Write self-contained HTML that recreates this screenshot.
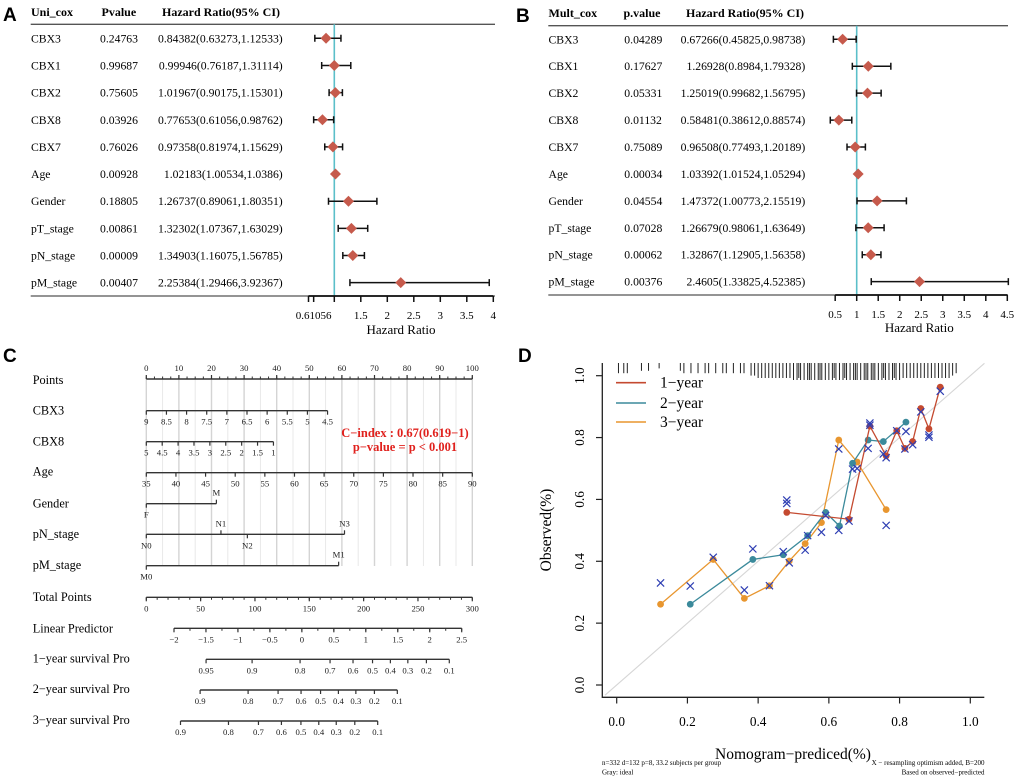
<!DOCTYPE html>
<html><head><meta charset="utf-8">
<style>
html,body{margin:0;padding:0;background:#fff;}
svg{display:block;font-family:"Liberation Serif",serif;}
.pl{font-family:"Liberation Sans",sans-serif;font-weight:bold;font-size:19px;}
</style></head>
<body>
<svg id="fig" width="1020" height="782" viewBox="0 0 1020 782">
<text class="pl" x="3" y="21">A</text>
<text class="pl" x="516" y="22">B</text>
<text class="pl" x="3" y="362">C</text>
<text class="pl" x="518" y="362">D</text>
</svg>
<script>
// ---------- Panel A data (univariate Cox) ----------
const aNames=["CBX3","CBX1","CBX2","CBX8","CBX7","Age","Gender","pT_stage","pN_stage","pM_stage"];
const aP=["0.24763","0.99687","0.75605","0.03926","0.76026","0.00928","0.18805","0.00861","0.00009","0.00407"];
const aHR=[0.84382,0.99946,1.01967,0.77653,0.97358,1.02183,1.26737,1.32302,1.34903,2.25384];
const aLo=[0.63273,0.76187,0.90175,0.61056,0.81974,1.00534,0.89061,1.07367,1.16075,1.29466];
const aHi=[1.12533,1.31114,1.15301,0.98762,1.15629,1.0386,1.80351,1.63029,1.56785,3.92367];
const aTicks=[0.61056,1,1.5,2,2.5,3,3.5,4];
const aTickLabels=["0.61056","","1.5","2","2.5","3","3.5","4"];
// ---------- Panel B data (multivariate Cox) ----------
const bNames=["CBX3","CBX1","CBX2","CBX8","CBX7","Age","Gender","pT_stage","pN_stage","pM_stage"];
const bP=["0.04289","0.17627","0.05331","0.01132","0.75089","0.00034","0.04554","0.07028","0.00062","0.00376"];
const bHR=[0.67266,1.26928,1.25019,0.58481,0.96508,1.03392,1.47372,1.26679,1.32867,2.4605];
const bLo=[0.45825,0.8984,0.99682,0.38612,0.77493,1.01524,1.00773,0.98061,1.12905,1.33825];
const bHi=[0.98738,1.79328,1.56795,0.88574,1.20189,1.05294,2.15519,1.63649,1.56358,4.52385];
const bTicks=[0.5,1,1.5,2,2.5,3,3.5,4,4.5];
const bTickLabels=["0.5","1","1.5","2","2.5","3","3.5","4","4.5"];
// ---------- Panel D data (calibration) ----------
const y1Pred=[0.481,0.657,0.716,0.762,0.792,0.815,0.837,0.860,0.883,0.915];
const y1Obs=[0.558,0.536,0.837,0.741,0.822,0.765,0.787,0.894,0.828,0.963];
const y2Pred=[0.208,0.385,0.471,0.540,0.591,0.630,0.667,0.711,0.754,0.818];
const y2Obs=[0.261,0.406,0.421,0.483,0.558,0.514,0.717,0.792,0.787,0.850];
const y3Pred=[0.124,0.273,0.361,0.432,0.488,0.533,0.579,0.628,0.680,0.762];
const y3Obs=[0.261,0.406,0.280,0.321,0.401,0.457,0.525,0.792,0.721,0.567];
const xPred=[0.124,0.208,0.273,0.361,0.385,0.432,0.471,0.481,0.481,0.488,0.533,0.540,0.579,0.591,0.628,0.628,0.657,0.667,0.680,0.711,0.716,0.716,0.754,0.762,0.792,0.818,0.815,0.837,0.860,0.883,0.883,0.762,0.915];
const xObs=[0.330,0.320,0.413,0.307,0.440,0.321,0.431,0.598,0.587,0.395,0.436,0.483,0.494,0.548,0.763,0.500,0.530,0.698,0.700,0.765,0.847,0.840,0.747,0.735,0.822,0.820,0.763,0.777,0.883,0.808,0.801,0.516,0.950];
const rugVals=[0.005,0.02,0.03,0.07,0.09,0.12,0.18,0.19,0.21,0.23,0.25,0.26,0.28,0.30,0.31,0.33,0.35,0.36,0.38,0.39,0.40,0.41,0.42,0.43,0.44,0.45,0.46,0.47,0.48,0.49,0.50,0.51,0.515,0.52,0.53,0.54,0.545,0.55,0.56,0.57,0.575,0.58,0.59,0.60,0.61,0.615,0.62,0.63,0.64,0.645,0.65,0.66,0.67,0.675,0.68,0.69,0.70,0.705,0.71,0.72,0.725,0.73,0.74,0.75,0.755,0.76,0.77,0.78,0.785,0.79,0.80,0.81,0.82,0.83,0.84,0.85,0.86,0.87,0.88,0.89,0.90,0.91,0.92,0.93,0.94,0.95,0.96];
const dTicks=[0,0.2,0.4,0.6,0.8,1.0];
const dTickLabels=["0.0","0.2","0.4","0.6","0.8","1.0"];
// ---------- Panel C data (nomogram) ----------
const cbx3Ticks=[9,8.5,8,7.5,7,6.5,6,5.5,5,4.5];
const cbx8Ticks=[5,4.5,4,3.5,3,2.5,2,1.5,1];
const ageTicks=[35,40,45,50,55,60,65,70,75,80,85,90];
const lpTicks=[-2,-1.5,-1,-0.5,0,0.5,1,1.5,2,2.5];
const surv1Ticks=[0.95,0.9,0.8,0.7,0.6,0.5,0.4,0.3,0.2,0.1];
const surv2Ticks=[0.9,0.8,0.7,0.6,0.5,0.4,0.3,0.2,0.1];
const surv3Ticks=[0.9,0.8,0.7,0.6,0.5,0.4,0.3,0.2,0.1];
const logS0=[-0.2295,-0.5174,-0.7033];
const cbx3MaxPts=55.6, cbx8MaxPts=39, genderMPts=21.5, pnPts=[0,22.9,31,60.8], pmM1Pts=59;

const NS='http://www.w3.org/2000/svg';
const svg=document.getElementById('fig');
function mk(tag,a,parent){const e=document.createElementNS(NS,tag);for(const k in a)e.setAttribute(k,a[k]);(parent||svg).appendChild(e);return e;}
function tx(s,a,parent){const e=mk('text',a,parent);e.textContent=s;return e;}

// ================= Forest plots =================
function forest(cfg){
  const g=mk('g',{});
  
  
  const sx=v=>cfg.x1+(v-1)*cfg.unit;
  let t;
  t=tx(cfg.h1,{x:cfg.nameX,y:cfg.headY,'font-size':12,'font-weight':'bold'},g);
  
  
  t=tx(cfg.h2,{x:cfg.pHX,y:cfg.headY,'font-size':12,'font-weight':'bold'},g);
  
  
  t=tx('Hazard Ratio(95% CI)',{x:cfg.hrHX,y:cfg.headY,'font-size':12,'font-weight':'bold'},g);
  
  
  let l=mk('line',{x1:cfg.x0,x2:cfg.xe,y1:cfg.top,y2:cfg.top,stroke:'#555','stroke-width':1.3},g);
  
  
  l=mk('line',{x1:cfg.x0,x2:cfg.xe,y1:cfg.bot,y2:cfg.bot,stroke:'#555','stroke-width':1.3},g);
  
  
  l=mk('line',{x1:sx(1),x2:sx(1),y1:cfg.top,y2:cfg.bot,stroke:'#5bbfc9','stroke-width':1.6},g);
  
  
  cfg.names.forEach((n,i)=>{
    const y=cfg.row0+i*cfg.dy;
    let e=tx(n,{x:cfg.nameX,y:y+4,'font-size':11.7},g);
    
    
    e=tx(cfg.p[i],{x:cfg.pX,y:y+4,'font-size':11.7},g);
    
    
    e=tx(cfg.hr[i]+'('+cfg.lo[i]+','+cfg.hi[i]+')',{x:cfg.hrR,y:y+4,'font-size':11.7,'text-anchor':'end'},g);
    
    
    const a=sx(cfg.lo[i]),b=sx(cfg.hi[i]),c=sx(cfg.hr[i]);
    e=mk('path',{d:`M${a},${y}H${b}M${a},${y-3.5}V${y+3.5}M${b},${y-3.5}V${y+3.5}`,stroke:'#111','stroke-width':1.5,fill:'none'},g);
    
    
    e=mk('path',{d:`M${c-5.5},${y}L${c},${y-5.5}L${c+5.5},${y}L${c},${y+5.5}Z`,fill:'#c65a4c'},g);
    
    
  });
  const ax0=sx(cfg.ticks[0]),ax1=sx(cfg.ticks[cfg.ticks.length-1]);
  l=mk('line',{x1:cfg.axStart||ax0,x2:ax1,y1:cfg.bot,y2:cfg.bot,stroke:'#111','stroke-width':1.8},g);
  
  
  if(cfg.axStart){l=mk('line',{x1:cfg.axStart,x2:cfg.axStart,y1:cfg.bot,y2:cfg.bot+6,stroke:'#111','stroke-width':1.5},g);
    
    }
  cfg.ticks.forEach((v,i)=>{
    const x=sx(v);
    let e=mk('line',{x1:x,x2:x,y1:cfg.bot,y2:cfg.bot+6,stroke:'#111','stroke-width':1.5},g);
    
    
    if(cfg.tl[i]){e=tx(cfg.tl[i],{x:x,y:cfg.tickY,'font-size':11,'text-anchor':'middle'},g);
      
      }
  });
  t=tx('Hazard Ratio',{x:cfg.titleX,y:cfg.titleY,'font-size':13,'text-anchor':'middle'},g);
  
  
}
forest({id:'univariate',names:aNames,p:aP,hr:aHR,lo:aLo,hi:aHi,ticks:aTicks,tl:aTickLabels,
  h1:'Uni_cox',h2:'Pvalue',x0:30.7,xe:495,x1:334.3,unit:53,top:24.3,bot:296,row0:38.3,dy:27.15,headY:16,
  nameX:31,pX:100,pHX:101.5,hrHX:162,hrR:282.7,tickY:319,titleX:401,titleY:334,axStart:308.5});
forest({id:'multivariate',names:bNames,p:bP,hr:bHR,lo:bLo,hi:bHi,ticks:bTicks,tl:bTickLabels,
  h1:'Mult_cox',h2:'p.value',x0:548.3,xe:1008,x1:856.7,unit:43.03,top:25.7,bot:295,row0:39.3,dy:26.93,headY:17,
  nameX:548.5,pX:624.3,pHX:623.5,hrHX:686,hrR:805.3,tickY:318,titleX:919.3,titleY:332});

// ================= Nomogram =================
(function(){
  const g=mk('g',{});
  
  
  const pp=v=>146.3+v*3.26;
  const tp=v=>146.3+v*326/300;
  const lp=v=>174+(v+2)*(287.7/4.5);
  for(let p=0;p<=100;p+=5){
    const e=mk('line',{x1:pp(p),x2:pp(p),y1:379,y2:566,stroke:p%10===0?'#d4d4d4':'#e6e6e6','stroke-width':p%10===0?1.4:0.9},g);
    
    
  }
  function rowLabel(s,y,name){const e=tx(s,{x:32.7,y:y+4,'font-size':12.3},g);
    
    }
  function scale(y,xs,labels,up,name,minor){
    const a=Math.min(...xs),b=Math.max(...xs);
    let e=mk('line',{x1:a,x2:b,y1:y,y2:y,stroke:'#333','stroke-width':1.4},g);
    
    
    (minor||[]).forEach(x=>{const m=mk('line',{x1:x,x2:x,y1:y,y2:up?y-2.5:y+2.5,stroke:'#333','stroke-width':1},g);
      
      });
    xs.forEach((x,i)=>{
      const u=Array.isArray(up)?up[i]:up;
      const t=mk('line',{x1:x,x2:x,y1:y,y2:u?y-4:y+4,stroke:'#333','stroke-width':1.2},g);
      
      
      const l=tx(labels[i],{x:x,y:u?y-8:y+14,'font-size':8.7,'text-anchor':'middle',fill:'#222'},g);
      
      
    });
  }
  const pts=[];for(let p=0;p<=100;p+=10)pts.push(p);
  const ptsMinor=[];for(let p=0;p<=100;p+=2.5)ptsMinor.push(pp(p));
  rowLabel('Points',380,'points-label');
  scale(379,pts.map(pp),pts.map(String),true,'points',ptsMinor);
  rowLabel('CBX3',410.7,'cbx3-label');
  scale(410.7,cbx3Ticks.map(v=>pp((9-v)/4.5*cbx3MaxPts)),cbx3Ticks.map(String),false,'cbx3');
  rowLabel('CBX8',441.7,'cbx8-label');
  scale(441.7,cbx8Ticks.map(v=>pp((5-v)/4*cbx8MaxPts)),cbx8Ticks.map(String),false,'cbx8');
  rowLabel('Age',471.7,'age-label');
  scale(472.7,ageTicks.map(v=>pp((v-35)/55*100)),ageTicks.map(String),false,'age');
  rowLabel('Gender',503.7,'gender-label');
  scale(503.7,[pp(0),pp(genderMPts)],['F','M'],[false,true],'gender');
  rowLabel('pN_stage',534,'pn-stage-label');
  scale(534.3,pnPts.map(pp),['N0','N1','N2','N3'],[false,true,false,true],'pn-stage');
  rowLabel('pM_stage',565,'pm-stage-label');
  scale(565.7,[pp(0),pp(pmM1Pts)],['M0','M1'],[false,true],'pm-stage');
  const tot=[];for(let v=0;v<=300;v+=50)tot.push(v);
  const totMinor=[];for(let v=0;v<=300;v+=10)totMinor.push(tp(v));
  rowLabel('Total Points',597,'total-points-label');
  scale(597.3,tot.map(tp),tot.map(String),false,'total-points',totMinor);
  const lpMinor=[];for(let v=-2;v<=2.5;v+=0.25)lpMinor.push(lp(v));
  rowLabel('Linear Predictor',628.3,'linear-predictor-label');
  scale(628.3,lpTicks.map(lp),lpTicks.map(v=>String(v).replace('-','\u2212')),false,'linear-predictor',lpMinor);
  const sv=(p,k)=>lp(Math.log(Math.log(p)/logS0[k]));
  rowLabel('1\u2212year survival Pro',658.3,'surv1-label');
  scale(659.3,surv1Ticks.map(p=>sv(p,0)),surv1Ticks.map(String),false,'surv1');
  rowLabel('2\u2212year survival Pro',689,'surv2-label');
  scale(690,surv2Ticks.map(p=>sv(p,1)),surv2Ticks.map(String),false,'surv2');
  rowLabel('3\u2212year survival Pro',720,'surv3-label');
  scale(721,surv3Ticks.map(p=>sv(p,2)),surv3Ticks.map(String),false,'surv3');
  let e=tx('C\u2212index : 0.67(0.619\u22121)',{x:405,y:437,'font-size':12.5,'font-weight':'bold',fill:'#e0211d','text-anchor':'middle'},g);
  
  
  e=tx('p\u2212value = p < 0.001',{x:405,y:451,'font-size':12.5,'font-weight':'bold',fill:'#e0211d','text-anchor':'middle'},g);
  
  
})();

// ================= Calibration plot =================
(function(){
  const g=mk('g',{});
  
  
  const xs=v=>616.7+v*353.6, ys=v=>685-v*309.3;
  let e=mk('line',{x1:xs(-0.033),y1:ys(-0.033),x2:xs(1.04),y2:ys(1.04),stroke:'#d6d6d6','stroke-width':1.1},g);
  
  
  rugVals.forEach(v=>{
    const c=rugVals.filter(w=>Math.abs(w-v)<=0.025).length;
    const r=mk('line',{x1:xs(v),x2:xs(v),y1:363,y2:363+Math.min(17,3+c*2.4),stroke:'#222','stroke-width':1},g);
    
    
  });
  e=mk('path',{d:'M602.3,363V697.3H984.3',stroke:'#222','stroke-width':1.3,fill:'none'},g);
  
  
  dTicks.forEach((v,i)=>{
    let t=mk('line',{x1:xs(v),x2:xs(v),y1:697.3,y2:703.5,stroke:'#222','stroke-width':1.2},g);
    
    
    t=tx(dTickLabels[i],{x:xs(v),y:726,'font-size':13.3,'text-anchor':'middle'},g);
    
    
    t=mk('line',{x1:602.3,x2:596,y1:ys(v),y2:ys(v),stroke:'#222','stroke-width':1.2},g);
    
    
    t=tx(dTickLabels[i],{x:0,y:0,'font-size':13.3,'text-anchor':'middle',transform:`translate(584,${ys(v)}) rotate(-90)`},g);
    
    
  });
  const series=[[y3Pred,y3Obs,'#e8962f','three-year'],[y2Pred,y2Obs,'#3b8a9b','two-year'],[y1Pred,y1Obs,'#c44a30','one-year']];
  series.forEach(([px,py,col,nm])=>{
    const ln=mk('polyline',{points:px.map((v,i)=>xs(v)+','+ys(py[i])).join(' '),fill:'none',stroke:col,'stroke-width':1.3},g);
    
    
    px.forEach((v,i)=>{
      const c=mk('circle',{cx:xs(v),cy:ys(py[i]),r:3.4,fill:col},g);
      
      
    });
  });
  xPred.forEach((v,i)=>{
    const x=xs(v),y=ys(xObs[i]),s=3.6;
    const m=mk('path',{d:`M${x-s},${y-s}L${x+s},${y+s}M${x-s},${y+s}L${x+s},${y-s}`,stroke:'#2f3fb3','stroke-width':1.2,fill:'none'},g);
    
    
  });
  const leg=[['1\u2212year','#c44a30',382.7],['2\u2212year','#3b8a9b',403],['3\u2212year','#e8962f',422]];
  leg.forEach(([s,c,y])=>{
    let l=mk('line',{x1:616,x2:646,y1:y,y2:y,stroke:c,'stroke-width':1.6},g);
    
    
    l=tx(s,{x:660,y:y+5,'font-size':15.5},g);
    
    
  });
  e=tx('Observed(%)',{x:0,y:0,'font-size':15.5,'text-anchor':'middle',transform:'translate(551,530) rotate(-90)'},g);
  
  
  e=tx('Nomogram\u2212prediced(%)',{x:793,y:759,'font-size':15.5,'text-anchor':'middle'},g);
  
  
  e=tx('n=332 d=132 p=8, 33.2 subjects per group',{x:602,y:765,'font-size':7},g);
  
  
  e=tx('Gray: ideal',{x:602,y:774.5,'font-size':7},g);
  
  
  e=tx('X \u2212 resampling optimism added, B=200',{x:984.5,y:765,'font-size':7,'text-anchor':'end'},g);
  
  
  e=tx('Based on observed\u2212predicted',{x:984.5,y:774.5,'font-size':7,'text-anchor':'end'},g);
  
  
})();
</script>
</body></html>
